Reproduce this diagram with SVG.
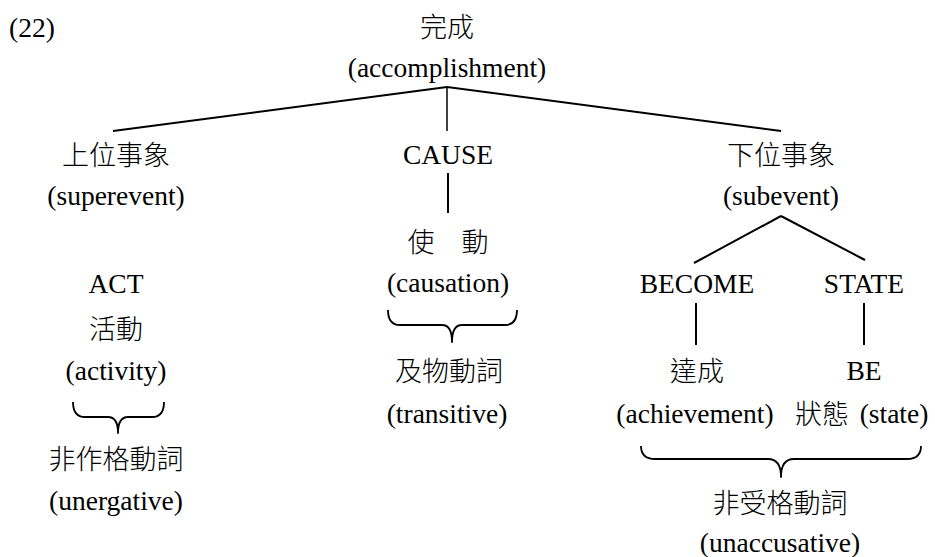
<svg xmlns="http://www.w3.org/2000/svg" width="935" height="557" viewBox="0 0 935 557">
<style>
.lat{font-family:"Liberation Serif","Times New Roman",serif;font-size:27.5px;fill:#000;text-anchor:middle}
.cjk{font-family:"Noto Sans CJK TC","Noto Sans CJK JP",sans-serif;font-size:27px;font-weight:300;fill:#000;text-anchor:middle}
.ln{stroke:#000;stroke-width:2;fill:none;stroke-linecap:butt}
.br{stroke:#000;stroke-width:1.8;fill:none;stroke-linejoin:round}
</style>
<rect width="935" height="557" fill="#fff"/>
<text class="lat" x="9" y="37" style="text-anchor:start">(22)</text>
<g id="connectors">
<line class="ln" x1="447" y1="87" x2="113" y2="131"/>
<line class="ln" x1="447" y1="87" x2="447" y2="131" style="stroke-width:1.5"/>
<line class="ln" x1="447" y1="87" x2="781" y2="131"/>
<line class="ln" x1="448" y1="173" x2="448" y2="213"/>
<line class="ln" x1="781" y1="216" x2="694" y2="263"/>
<line class="ln" x1="781" y1="216" x2="865" y2="260"/>
<line class="ln" x1="696" y1="303" x2="696" y2="345"/>
<line class="ln" x1="864" y1="303" x2="864" y2="345"/>
<path class="br" d="M73,402 Q73,417 85,417 L108,417 Q118,417 118,433 Q118,417 128,417 L152,417 Q164,417 164,402"/>
<path class="br" d="M388,310 Q388,325 400,325 L442,325 Q452,325 452,342 Q452,325 462,325 L505,325 Q517,325 517,310"/>
<path class="br" d="M641,446 Q641,459 655,459 L768,459 Q781,459 781,477 Q781,459 794,459 L907,459 Q921,459 921,446"/>
</g>
<g id="accomplishment">
<text class="cjk" x="447" y="37">完成</text>
<text class="lat" x="447" y="77">(accomplishment)</text>
</g>
<g id="superevent">
<text class="cjk" x="116" y="165">上位事象</text>
<text class="lat" x="116" y="205">(superevent)</text>
</g>
<g id="cause">
<text class="lat" x="448" y="164">CAUSE</text>
</g>
<g id="subevent">
<text class="cjk" x="781" y="165">下位事象</text>
<text class="lat" x="781" y="205">(subevent)</text>
</g>
<g id="act">
<text class="lat" x="116" y="293">ACT</text>
<text class="cjk" x="116" y="339">活動</text>
<text class="lat" x="116" y="380">(activity)</text>
</g>
<g id="causation">
<text class="cjk" x="448" y="252">使　動</text>
<text class="lat" x="448" y="292">(causation)</text>
</g>
<g id="become">
<text class="lat" x="697" y="293">BECOME</text>
</g>
<g id="state">
<text class="lat" x="864" y="293">STATE</text>
</g>
<g id="achievement">
<text class="cjk" x="697" y="381">達成</text>
<text class="lat" x="695" y="423">(achievement)</text>
</g>
<g id="be">
<text class="lat" x="864" y="380">BE</text>
<text class="cjk" x="822" y="424">狀態</text>
<text class="lat" x="894" y="423">(state)</text>
</g>
<g id="unergative">
<text class="cjk" x="116" y="469">非作格動詞</text>
<text class="lat" x="116" y="510">(unergative)</text>
</g>
<g id="transitive">
<text class="cjk" x="449" y="381">及物動詞</text>
<text class="lat" x="447" y="423">(transitive)</text>
</g>
<g id="unaccusative">
<text class="cjk" x="780" y="513">非受格動詞</text>
<text class="lat" x="780" y="552">(unaccusative)</text>
</g>
</svg>
